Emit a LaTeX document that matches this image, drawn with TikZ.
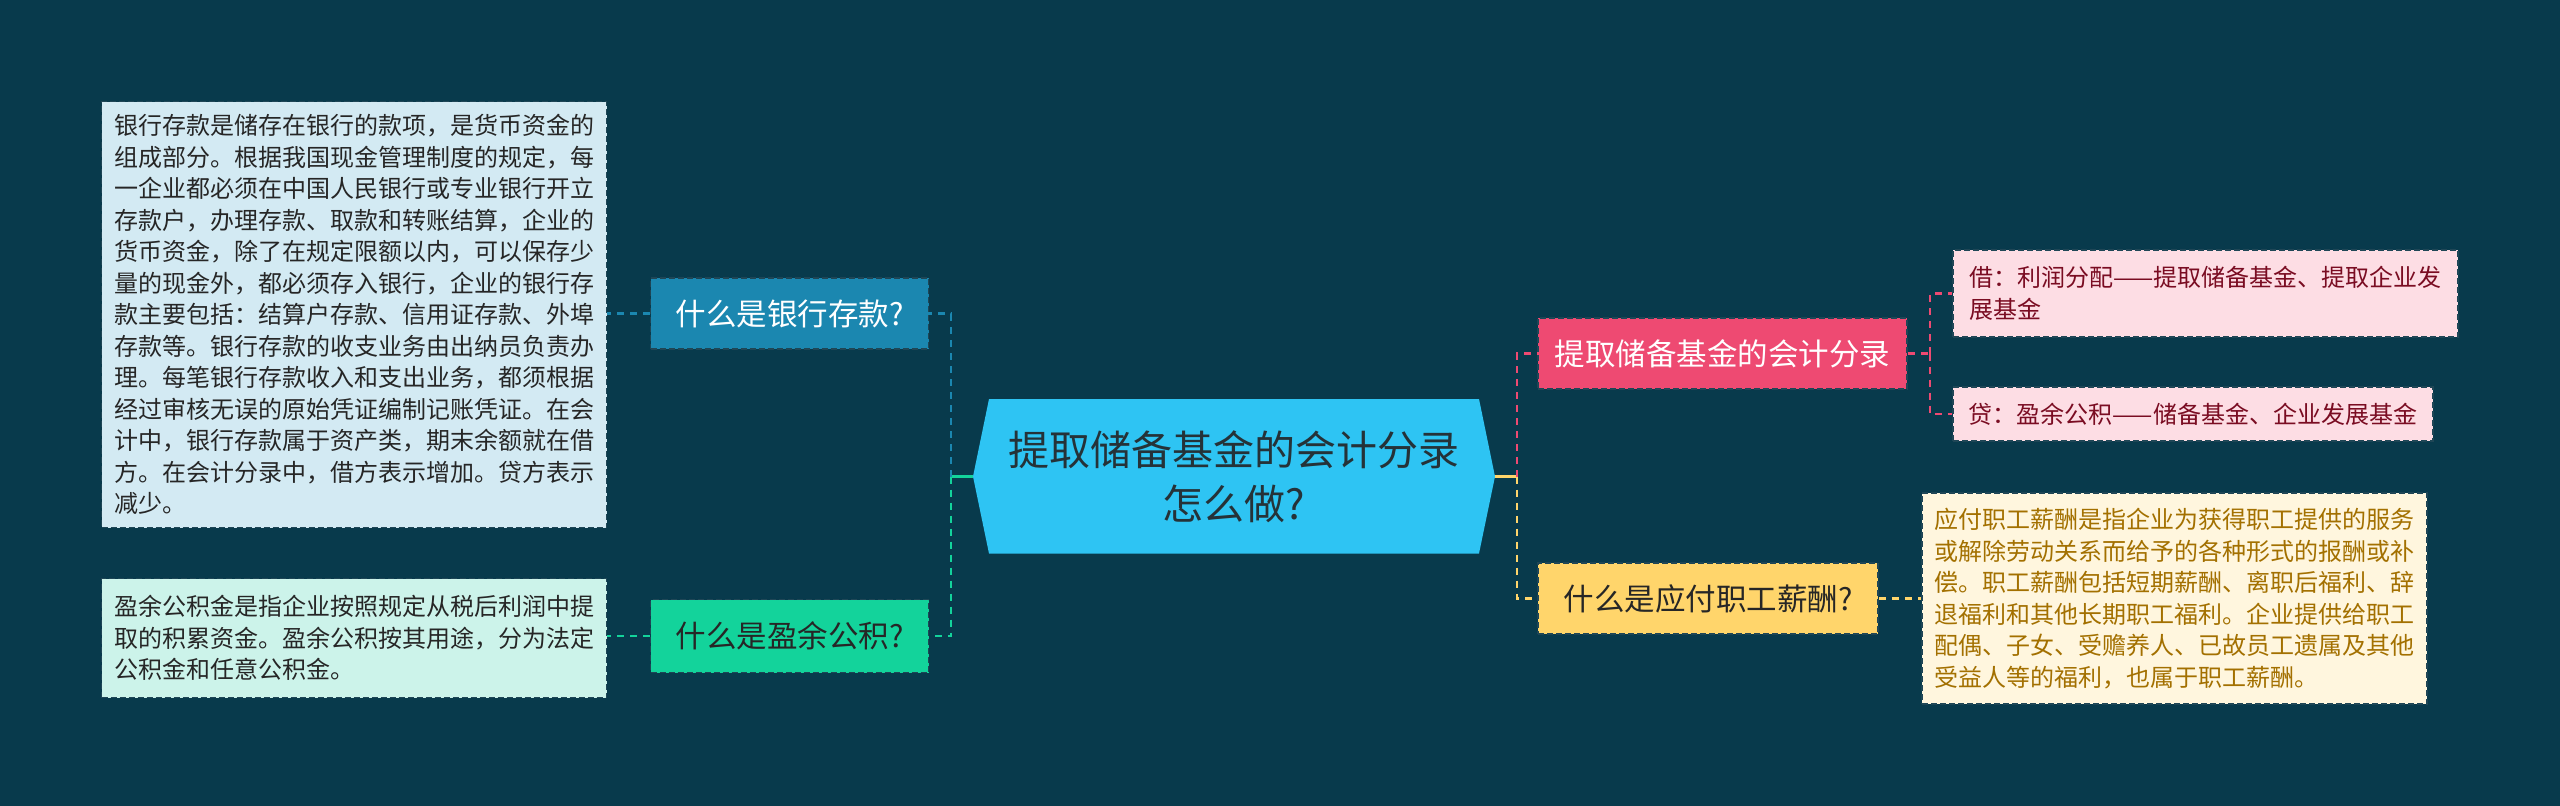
\documentclass[tikz,border=0pt]{standalone}
\usepackage{fontspec}
\setmainfont{Noto Sans CJK SC}
\definecolor{bg}{HTML}{083A4C}
\definecolor{boxedge}{HTML}{1F4656}
\definecolor{cblue}{HTML}{1B87B0}
\definecolor{cgreen}{HTML}{13D39B}
\definecolor{hexfill}{HTML}{2EC4F3}
\definecolor{cpink}{HTML}{EE4A72}
\definecolor{cyellow}{HTML}{FFD56B}
\definecolor{lblue}{HTML}{D3EAF3}
\definecolor{lmint}{HTML}{CCF3EA}
\definecolor{lpink}{HTML}{FDDDE4}
\definecolor{lcream}{HTML}{FFF6DE}
\definecolor{darktext}{HTML}{262626}
\definecolor{hextext}{HTML}{253238}
\definecolor{pinktext}{HTML}{7A0C22}
\definecolor{goldtext}{HTML}{A37000}
\begin{document}
\begin{tikzpicture}[x=1pt,y=-1pt,
  boxline/.style={draw=boxedge, line width=1.6pt, dash pattern=on 6pt off 3pt},
  txtbox/.style={rectangle, boxline, inner xsep=0pt, inner ysep=0pt, align=left,
    font=\fontsize{24}{31.5}\selectfont},
  qbox/.style={rectangle, boxline, inner sep=0pt, align=center,
    font=\fontsize{30.5}{36}\selectfont},
  conn/.style={line width=2.5pt, dash pattern=on 7pt off 6pt},
  solidconn/.style={line width=2.5pt}
]
\fill[bg] (0,0) rectangle (2560,806);
\useasboundingbox (0,0) rectangle (2560,806);

% central hexagon
\fill[hexfill] (973,476.5) -- (989,399) -- (1479,399) -- (1495,476.5) -- (1479,553.5) -- (989,553.5) -- cycle;
\node[inner sep=0pt, minimum width=522pt, minimum height=154pt, align=center,
  text=hextext, font=\fontsize{41}{54}\selectfont] (hex) at (1234,476.5)
  {提取储备基金的会计分录\\怎么做?};

% left side
\node[qbox, fill=cblue, text=white, minimum width=278pt, minimum height=71pt]
  (q1) at (789.5,313.5) {什么是银行存款?};
\node[qbox, fill=cgreen, text=darktext, minimum width=278pt, minimum height=73pt]
  (q2) at (789.5,636) {什么是盈余公积?};
\node[txtbox, fill=lblue, text=darktext, minimum width=505pt, minimum height=426pt]
  (la) at (354,314.5) {银行存款是储存在银行的款项，是货币资金的\\
组成部分。根据我国现金管理制度的规定，每\\
一企业都必须在中国人民银行或专业银行开立\\
存款户，办理存款、取款和转账结算，企业的\\
货币资金，除了在规定限额以内，可以保存少\\
量的现金外，都必须存入银行，企业的银行存\\
款主要包括：结算户存款、信用证存款、外埠\\
存款等。银行存款的收支业务由出纳员负责办\\
理。每笔银行存款收入和支出业务，都须根据\\
经过审核无误的原始凭证编制记账凭证。在会\\
计中，银行存款属于资产类，期末余额就在借\\
方。在会计分录中，借方表示增加。贷方表示\\
减少。};
\node[txtbox, fill=lmint, text=darktext, minimum width=505pt, minimum height=119pt]
  (lb) at (354,638) {盈余公积金是指企业按照规定从税后利润中提\\
取的积累资金。盈余公积按其用途，分为法定\\
公积金和任意公积金。};

% right side
\node[qbox, fill=cpink, text=white, minimum width=369pt, minimum height=71pt]
  (r1) at (1722.5,353.5) {提取储备基金的会计分录};
\node[qbox, fill=cyellow, text=darktext, minimum width=340pt, minimum height=71pt]
  (r2) at (1708,598.5) {什么是应付职工薪酬?};
\node[txtbox, fill=lpink, text=pinktext, minimum width=505pt, minimum height=87pt]
  (r1a) at (2205.5,293.5) {借：利润分配——提取储备基金、提取企业发\\展基金};
\node[txtbox, fill=lpink, text=pinktext, minimum width=480pt, minimum height=54pt]
  (r1b) at (2193,414) {贷：盈余公积——储备基金、企业发展基金};
\node[txtbox, fill=lcream, text=goldtext, minimum width=505pt, minimum height=211pt]
  (r2a) at (2174.5,598.5) {应付职工薪酬是指企业为获得职工提供的服务\\
或解除劳动关系而给予的各种形式的报酬或补\\
偿。职工薪酬包括短期薪酬、离职后福利、辞\\
退福利和其他长期职工福利。企业提供给职工\\
配偶、子女、受赡养人、已故员工遗属及其他\\
受益人等的福利，也属于职工薪酬。};

% connectors
\coordinate (tl) at (951,476.5);
\coordinate (tr) at (1517,476.5);
\coordinate (tr1) at (1930,353.5);
\draw[solidconn, cgreen] (hex.west) -- (tl);
\draw[conn, cblue] (tl) |- (q1.east);
\draw[conn, cgreen] (tl) |- (q2.east);
\draw[conn, cblue] (q1.west) -- (la.east |- q1.west);
\draw[conn, cgreen] (q2.west) -- (lb.east |- q2.west);
\draw[solidconn, cyellow] (hex.east) -- (tr);
\draw[conn, cpink] (tr) |- (r1.west);
\draw[conn, cyellow] (tr) |- (r2.west);
\draw[conn, cpink] (r1.east) -- (tr1);
\draw[conn, cpink] (tr1) |- (r1a.west);
\draw[conn, cpink] (tr1) |- (r1b.west);
\draw[conn, cyellow] (r2.east) -- (r2a.west);
\end{tikzpicture}
\end{document}
